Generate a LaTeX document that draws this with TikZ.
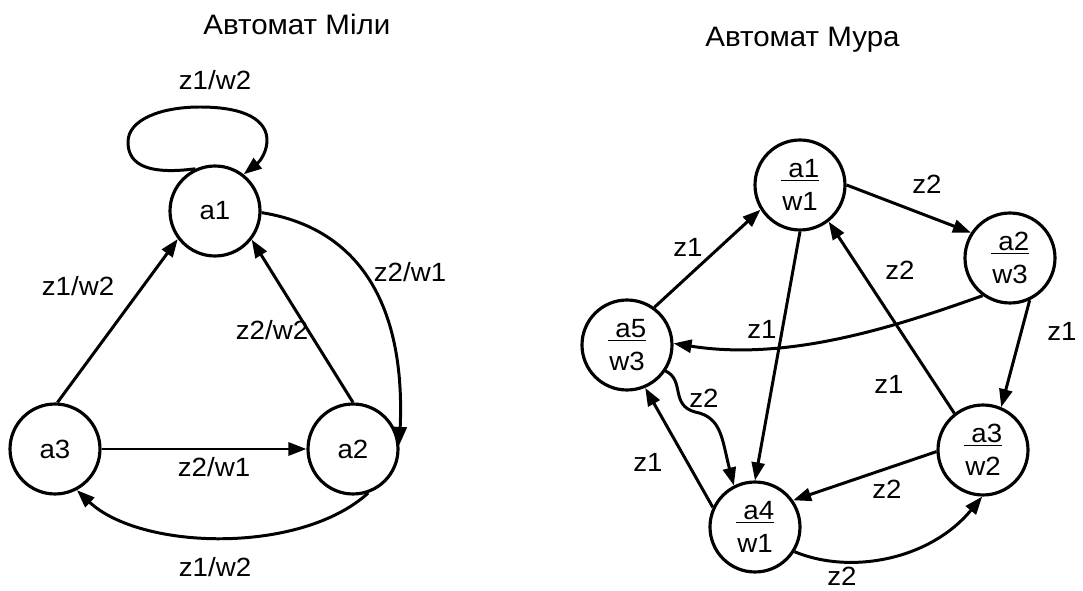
\documentclass[tikz,border=0pt]{standalone}
\usepackage{fontspec}
\setmainfont[FakeStretch=1.05]{Liberation Sans}
\usetikzlibrary{arrows.meta}

\begin{document}
\begin{tikzpicture}[x=0.02cm,y=-0.02cm,
  st/.style={circle,draw,line width=1.8pt,minimum size=1.8cm,inner sep=0pt,
    align=center,font=\fontsize{15}{18.7}\selectfont},
  lbl/.style={inner sep=0pt,font=\fontsize{15}{17}\selectfont},
  heading/.style={inner sep=0pt,anchor=base west,font=\fontsize{16}{19}\selectfont},
  trans/.style={line width=1.7pt,-{Triangle[length=0.36cm,width=0.26cm]}}]
  \useasboundingbox (0,0) rectangle (1083,591);

  % Mealy machine
  \node[heading] (tmealy) at (203,35) {Автомат Міли};
  \node[st] (m1) at (215,211) {a1};
  \node[st] (m2) at (353,449) {a2};
  \node[st] (m3) at (55,449) {a3};

  \draw[trans] (m1.115) .. controls (140,176) and (128,160) .. (128,142)
    .. controls (128,120) and (160,107) .. (200,107)
    .. controls (245,107) and (268,120) .. (267,142)
    .. controls (266,155) and (258,163) .. (m1.52);
  \draw[trans] (m1.-2) .. controls (370,230) and (405,320) .. (m2.5);
  \draw[trans] (m3.87) -- (m1.217);
  \draw[trans] (m2.90) -- (m1.322);
  \draw[trans] (m3) -- (m2);
  \draw[trans] (m2.-71) .. controls (300,555) and (140,550) .. (m3.-62);

  \node[lbl] (lm1) at (215,80) {z1/w2};
  \node[lbl] (lm2) at (78,286) {z1/w2};
  \node[lbl] (lm3) at (272,330) {z2/w2};
  \node[lbl] (lm4) at (410,272) {z2/w1};
  \node[lbl] (lm5) at (214,467) {z2/w1};
  \node[lbl] (lm6) at (215,567) {z1/w2};

  % Moore machine
  \node[heading] (tmoore) at (705,47) {Автомат Мура};
  \node[st] (s1) at (800,185) {\underline{~a1}\\w1};
  \node[st] (s2) at (1010,258) {\underline{~a2}\\w3};
  \node[st] (s3) at (983,450) {\underline{~a3}\\w2};
  \node[st] (s4) at (755,527) {\underline{~a4}\\w1};
  \node[st] (s5) at (627,345) {\underline{~a5}\\w3};

  \draw[trans] (s5.54) -- (s1.212);
  \draw[trans] (s1.0) -- (s2.147);
  \draw[trans] (s1.-90) -- (s4.90);
  \draw[trans] (s3.128) -- (s1.-52);
  \draw[trans] (s2.-65) -- (s3.67);
  \draw[trans] (s3.182) -- (s4.35);
  \draw[trans] (s4.155) -- (s5.-67);
  \draw[trans] (s2.234) .. controls (900,325) and (790,362) .. (s5.2);
  \draw[trans] (s4.-32) .. controls (850,575) and (930,560) .. (s3.-91);
  \draw[trans] (s5.-34) .. controls (685,380) and (670,405) .. (695,412)
    .. controls (722,417) and (722,440) .. (s4.117);

  \node[lbl] (ls1) at (688,247) {z1};
  \node[lbl] (ls2) at (927,184) {z2};
  \node[lbl] (ls3) at (900,270) {z2};
  \node[lbl] (ls4) at (762,329) {z1};
  \node[lbl] (ls5) at (1062,331) {z1};
  \node[lbl] (ls6) at (889,384) {z1};
  \node[lbl] (ls7) at (704,398) {z2};
  \node[lbl] (ls8) at (648,462) {z1};
  \node[lbl] (ls9) at (887,489) {z2};
  \node[lbl] (ls10) at (842,576) {z2};
\end{tikzpicture}
\end{document}
